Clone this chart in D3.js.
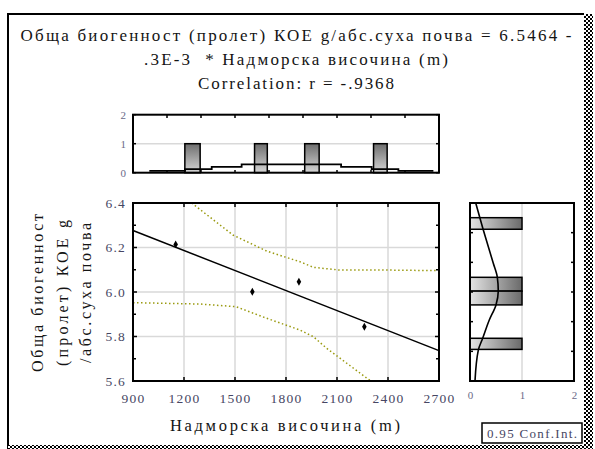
<!DOCTYPE html>
<html><head><meta charset="utf-8">
<script src="https://cdn.jsdelivr.net/npm/d3@7/dist/d3.min.js"></script>
<style>
html,body{margin:0;padding:0;background:#fff;}
svg{display:block;font-family:"Liberation Serif","Times New Roman",serif;}
</style></head>
<body>
<svg id="c" width="595" height="449"></svg>
<script>
// ---- data ----
const titleLines = ["Обща биогенност (пролет) КОЕ g/абс.суха почва = 6.5464 -", ".3E-3  * Надморска височина (m)", "Correlation: r = -.9368"];
const yTitleLines = ["Обща биогенност", "(пролет) КОЕ g", "/абс.суха почва"];
const xTitle = "Надморска височина (m)";
const confLabel = "0.95 Conf.Int.";
const altitude = [1151, 1602, 1876, 2261];
const biogen = [6.214, 6.001, 6.046, 5.844];
const intercept = 6.5464, slope = -0.0003;
const xTicks = [900, 1200, 1500, 1800, 2100, 2400, 2700];
const yTicks = [5.6, 5.8, 6.0, 6.2, 6.4];
const yMinorTicks = [5.7, 5.9, 6.1, 6.3];
const upperBandX = [1245, 1488, 1686, 1882, 1961, 2112, 2353, 2700];
const upperBandY = [6.4, 6.256, 6.184, 6.136, 6.111, 6.099, 6.099, 6.096];
const lowerBandX = [900, 1294, 1506, 1686, 1882, 1961, 2039, 2284, 2300];
const lowerBandY = [5.952, 5.946, 5.934, 5.882, 5.829, 5.799, 5.747, 5.608, 5.6];
// top histogram (x distribution)
const topBarLo = [1205, 1615, 1910, 2315];
const topBarHi = [1295, 1690, 1995, 2395];
const topBarCount = [1, 1, 1, 1];
const topStepEdges = [996, 1206, 1363, 1539, 2124, 2304, 2461, 2667];
const topStepLevels = [0.06, 0.12, 0.2, 0.29, 0.2, 0.12, 0.06];
const topTicks = [1100, 1300, 1500, 1700, 1900, 2100, 2300, 2500];
const topYTicks = [0, 1, 2];
// right histogram (y distribution)
const rightBarLo = [6.282, 6.004, 5.942, 5.742];
const rightBarHi = [6.334, 6.066, 6.004, 5.792];
const rightBarCount = [1, 1, 1, 1];
const rightCurveY = [6.4, 6.279, 6.129, 6.067, 6.004, 5.942, 5.874, 5.792, 5.739, 5.6];
const rightCurveV = [0.11, 0.256, 0.448, 0.525, 0.544, 0.5, 0.371, 0.244, 0.16, 0.096];
const rightTicks = [6.2667, 6.1333, 6.0, 5.8667, 5.7333];
const rightXTicks = [0, 1, 2];

const svg = d3.select("#c");
const txtCol = "#141414", lblCol = "#464663", gridCol = "#d9d9d9";

// gradients
const defs = svg.append("defs");
const gv = defs.append("linearGradient").attr("id","gv").attr("x1",0).attr("y1",0).attr("x2",0).attr("y2",1);
gv.append("stop").attr("offset","0%").attr("stop-color","#6e6e6e");
gv.append("stop").attr("offset","100%").attr("stop-color","#d6d6d6");
const gh = defs.append("linearGradient").attr("id","gh").attr("x1",0).attr("y1",0).attr("x2",1).attr("y2",0);
gh.append("stop").attr("offset","0%").attr("stop-color","#e4e4e4");
gh.append("stop").attr("offset","100%").attr("stop-color","#6a6a6a");
const pat = defs.append("pattern").attr("id","chk").attr("width",4).attr("height",4).attr("patternUnits","userSpaceOnUse");
pat.append("rect").attr("width",4).attr("height",4).attr("fill","#fff");
pat.append("rect").attr("width",2).attr("height",2).attr("fill","#000");
pat.append("rect").attr("x",2).attr("y",2).attr("width",2).attr("height",2).attr("fill","#000");

// outer frame
svg.append("path").attr("d","M8,449 L8,14 L584,14").attr("fill","none").attr("stroke","#000").attr("stroke-width",2);
svg.append("rect").attr("x",584).attr("y",14).attr("width",9).attr("height",435).attr("fill","url(#chk)");
svg.append("rect").attr("x",8).attr("y",445).attr("width",585).attr("height",4).attr("fill","url(#chk)");

// title
const tW = [551, 304, 196], tY = [41, 65, 89];
titleLines.forEach((t,i)=>{
  svg.append("text").attr("x",296).attr("y",tY[i]).attr("text-anchor","middle")
    .attr("font-size",17).attr("fill",txtCol).attr("textLength",tW[i]).attr("lengthAdjust","spacing")
    .style("white-space","pre").text(t);
});

// scales
const x = d3.scaleLinear().domain([900,2700]).range([133,439]);
const y = d3.scaleLinear().domain([5.6,6.4]).range([381,203]);
const yTop = d3.scaleLinear().domain([0,2]).range([172.7,114.7]);
const xR = d3.scaleLinear().domain([0,2]).range([470,574]);

// ---------- main plot ----------
const g = svg.append("g");
g.selectAll(".gx").data(xTicks.slice(1,-1)).join("line")
  .attr("x1",d=>x(d)).attr("x2",d=>x(d)).attr("y1",203).attr("y2",381).attr("stroke",gridCol).attr("stroke-width",1.5);
g.selectAll(".gy").data(yTicks.slice(1,-1)).join("line")
  .attr("y1",d=>y(d)).attr("y2",d=>y(d)).attr("x1",133).attr("x2",439).attr("stroke",gridCol).attr("stroke-width",1.5);

const line = d3.line().x(d=>x(d[0])).y(d=>y(d[1]));
g.append("path").datum(upperBandX.map((v,i)=>[v,upperBandY[i]])).attr("d",line)
  .attr("fill","none").attr("stroke","#9a9a10").attr("stroke-width",1.5).attr("stroke-dasharray","1.5,2.5");
g.append("path").datum(lowerBandX.map((v,i)=>[v,lowerBandY[i]])).attr("d",line)
  .attr("fill","none").attr("stroke","#9a9a10").attr("stroke-width",1.5).attr("stroke-dasharray","1.5,2.5");
g.append("path").datum([900,2700].map(v=>[v,intercept+slope*v])).attr("d",line)
  .attr("fill","none").attr("stroke","#000").attr("stroke-width",1.5);
g.selectAll(".pt").data(altitude).join("path")
  .attr("transform",(d,i)=>`translate(${x(d)},${y(biogen[i])})`)
  .attr("d",d3.symbol(d3.symbolDiamond,18)).attr("fill","#000");

// ticks inward
const tk = (x1,y1,x2,y2)=>g.append("line").attr("x1",x1).attr("y1",y1).attr("x2",x2).attr("y2",y2).attr("stroke","#000").attr("stroke-width",1.5);
xTicks.slice(1,-1).forEach(d=>{tk(x(d),203,x(d),207);tk(x(d),381,x(d),377);});
yTicks.slice(1,-1).forEach(d=>{tk(133,y(d),137,y(d));tk(439,y(d),435,y(d));});
yMinorTicks.forEach(d=>{tk(133,y(d),136,y(d));tk(439,y(d),436,y(d));});
g.append("rect").attr("x",133).attr("y",203).attr("width",306).attr("height",178).attr("fill","none").attr("stroke","#000").attr("stroke-width",2);

// axes labels via d3 axes
const ax = svg.append("g").attr("transform","translate(0,381)")
  .call(d3.axisBottom(x).tickValues(xTicks).tickSize(0).tickPadding(12).tickFormat(d3.format("d")));
const ay = svg.append("g").attr("transform","translate(133,0)")
  .call(d3.axisLeft(y).tickValues(yTicks).tickSize(0).tickPadding(7).tickFormat(d3.format(".1f")));
[ax,ay].forEach(a=>{a.select(".domain").remove();
  a.selectAll("text").attr("font-family","Liberation Serif").attr("font-size",13.5).attr("fill",lblCol).attr("letter-spacing","1.2px");});

svg.append("text").attr("x",285).attr("y",431).attr("text-anchor","middle").attr("font-size",16.5)
  .attr("fill",txtCol).attr("textLength",230).attr("lengthAdjust","spacing").text(xTitle);
const yCols = [37, 62, 85], yLens = [158, 146, 140];
yTitleLines.forEach((t,i)=>{
  svg.append("text").attr("transform",`translate(${yCols[i]},293) rotate(-90)`).attr("text-anchor","middle")
    .attr("dy","0.35em").attr("font-size",16).attr("fill",txtCol)
    .attr("textLength",yLens[i]).attr("lengthAdjust","spacing").text(t);
});

// ---------- top histogram ----------
const gt = svg.append("g");
gt.append("line").attr("x1",133).attr("x2",439).attr("y1",yTop(1)).attr("y2",yTop(1)).attr("stroke",gridCol).attr("stroke-width",1.5);
gt.selectAll(".tb").data(topBarLo).join("rect")
  .attr("x",d=>x(d)).attr("width",(d,i)=>x(topBarHi[i])-x(d))
  .attr("y",(d,i)=>yTop(topBarCount[i])).attr("height",(d,i)=>yTop(0)-yTop(topBarCount[i]))
  .attr("fill","url(#gv)").attr("stroke","#000").attr("stroke-width",1.5);
const stepPts = [];
topStepLevels.forEach((v,i)=>{stepPts.push([topStepEdges[i],v]);stepPts.push([topStepEdges[i+1],v]);});
gt.append("path").datum(stepPts).attr("d",d3.line().x(d=>x(d[0])).y(d=>yTop(d[1])))
  .attr("fill","none").attr("stroke","#000").attr("stroke-width",1.8);
topTicks.forEach(d=>{
  gt.append("line").attr("x1",x(d)).attr("x2",x(d)).attr("y1",114.7).attr("y2",118).attr("stroke","#000").attr("stroke-width",1.5);
  gt.append("line").attr("x1",x(d)).attr("x2",x(d)).attr("y1",172.7).attr("y2",170).attr("stroke","#000").attr("stroke-width",1.5);
});
topYTicks.forEach(d=>{
  gt.append("line").attr("x1",133).attr("x2",136).attr("y1",yTop(d)).attr("y2",yTop(d)).attr("stroke","#000").attr("stroke-width",1.5);
  gt.append("line").attr("x1",439).attr("x2",436).attr("y1",yTop(d)).attr("y2",yTop(d)).attr("stroke","#000").attr("stroke-width",1.5);
});
gt.append("rect").attr("x",133).attr("y",114.7).attr("width",306).attr("height",58).attr("fill","none").attr("stroke","#000").attr("stroke-width",2);
const at = svg.append("g").attr("transform","translate(133,0)")
  .call(d3.axisLeft(yTop).tickValues(topYTicks).tickSize(0).tickPadding(7).tickFormat(d3.format("d")));
at.select(".domain").remove();
at.selectAll("text").attr("font-family","Liberation Serif").attr("font-size",11).attr("fill","#6a6a88");

// ---------- right histogram ----------
const gr = svg.append("g");
gr.append("line").attr("x1",xR(1)).attr("x2",xR(1)).attr("y1",203).attr("y2",381).attr("stroke",gridCol).attr("stroke-width",1.5);
gr.selectAll(".rb").data(rightBarLo).join("rect")
  .attr("x",xR(0)).attr("width",(d,i)=>xR(rightBarCount[i])-xR(0))
  .attr("y",(d,i)=>y(rightBarHi[i])).attr("height",(d,i)=>y(d)-y(rightBarHi[i]))
  .attr("fill","url(#gh)").attr("stroke","#000").attr("stroke-width",1.5);
gr.append("path").datum(rightCurveY.map((v,i)=>[rightCurveV[i],v]))
  .attr("d",d3.line().x(d=>xR(d[0])).y(d=>y(d[1])).curve(d3.curveMonotoneY))
  .attr("fill","none").attr("stroke","#000").attr("stroke-width",1.6);
rightTicks.forEach(d=>{
  gr.append("line").attr("x1",470).attr("x2",473).attr("y1",y(d)).attr("y2",y(d)).attr("stroke","#000").attr("stroke-width",1.5);
  gr.append("line").attr("x1",574).attr("x2",571).attr("y1",y(d)).attr("y2",y(d)).attr("stroke","#000").attr("stroke-width",1.5);
});
gr.append("rect").attr("x",470).attr("y",203).attr("width",104).attr("height",178).attr("fill","none").attr("stroke","#000").attr("stroke-width",2);
const ar = svg.append("g").attr("transform","translate(0,381)")
  .call(d3.axisBottom(xR).tickValues(rightXTicks).tickSize(0).tickPadding(10).tickFormat(d3.format("d")));
ar.select(".domain").remove();
ar.selectAll("text").attr("font-family","Liberation Serif").attr("font-size",11).attr("fill","#6a6a88");

// conf int box
svg.append("rect").attr("x",482).attr("y",423).attr("width",100).attr("height",20).attr("fill","#fff").attr("stroke","#000").attr("stroke-width",1.5);
svg.append("text").attr("x",532).attr("y",438).attr("text-anchor","middle").attr("font-size",13)
  .attr("fill",lblCol).attr("textLength",90).attr("lengthAdjust","spacing").text(confLabel);
</script>
</body></html>
